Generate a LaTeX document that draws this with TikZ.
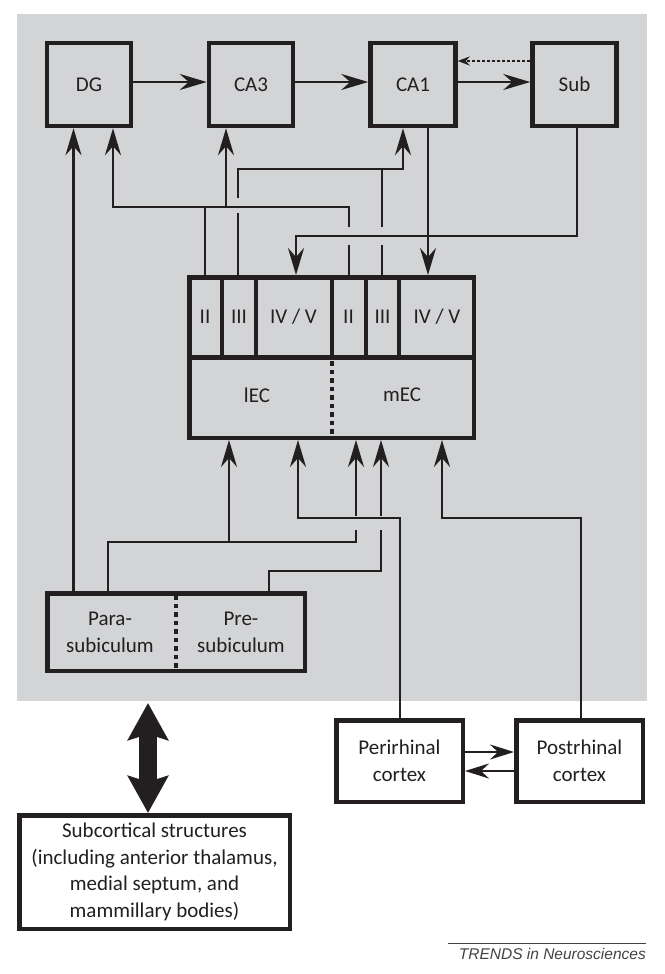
\documentclass[tikz,border=0pt]{standalone}
\usepackage{fontspec}
\setmainfont{Carlito}
\newfontfamily\trendsfont{Liberation Sans}
\usetikzlibrary{arrows.meta}
\definecolor{bg}{RGB}{211,212,214}
\definecolor{ink}{RGB}{35,31,32}
\begin{document}
\begin{tikzpicture}[x=1pt,y=-1pt,
  box/.style={draw=ink, line width=4.5pt, inner sep=0pt, align=center,
              font=\fontsize{21}{26.5}\selectfont, text=ink},
  conn/.style={draw=ink, line width=2.5pt},
  arr/.style={conn, -{Stealth[length=27pt,width=16pt,inset=9pt]}},
  sarr/.style={conn, -{Stealth[length=24pt,width=15pt,inset=8pt]}},
  lab/.style={font=\fontsize{21}{26}\selectfont, text=ink, inner sep=0pt},
  heavy/.style={draw=ink, line width=4.3pt},
  dotline/.style={draw=ink, line width=4.5pt, dash pattern=on 4.5pt off 4pt}
]
\useasboundingbox (0,0) rectangle (664,974);
\fill[bg] (17,14) rectangle (647,701);

% top row
\node[box, minimum width=84pt, minimum height=83pt] (DG)  at (89,84.5)    {DG};
\node[box, minimum width=84pt, minimum height=83pt] (CA3) at (251,84.5)   {CA3};
\node[box, minimum width=85pt, minimum height=83pt] (CA1) at (413,84.5)   {CA1};
\node[box, minimum width=84pt, minimum height=83pt] (Sub) at (574.5,84.5) {Sub};

\draw[arr] ([yshift=2.5pt]DG.east)  -- ([yshift=2.5pt]CA3.west);
\draw[arr] ([yshift=2.5pt]CA3.east) -- ([yshift=2.5pt]CA1.west);
\draw[arr] ([yshift=2.5pt]CA1.east) -- ([yshift=2.5pt]Sub.west);
\draw[draw=ink, line width=2pt, dash pattern=on 3pt off 2pt,
      -{Stealth[length=12pt,width=9pt,inset=4pt]}]
      ([yshift=23.5pt]Sub.west) -- ([yshift=23.5pt]CA1.east);

% entorhinal cortex
\node[box, minimum width=284.5pt, minimum height=160.5pt] (EC) at (331.5,357.5) {};
\draw[heavy] (EC.west) -- (EC.east);
\foreach \xx in {222,256,332,366,399} \draw[heavy] (\xx,275) -- (\xx,357.5);
\draw[dotline] (332,361) -- (332,440);
\node[lab] (L2)  at (205,317)   {II};
\node[lab] (L3)  at (239,317)   {III};
\node[lab] (L45) at (293.5,317) {IV / V};
\node[lab] (M2)  at (348.5,317) {II};
\node[lab] (M3)  at (382.5,317) {III};
\node[lab] (M45) at (437,317)   {IV / V};
\node[lab] (lEC) at (257,395)   {lEC};
\node[lab] (mEC) at (402,395)   {mEC};

% parasubiculum / presubiculum
\node[box, minimum width=257.5pt, minimum height=77.5pt] (PS) at (176,632) {};
\draw[dotline] (176,595) -- (176,673);
\node[lab, align=center, font=\fontsize{21}{27}\selectfont] (para) at (110,632) {Para-\\subiculum};
\node[lab, align=center, font=\fontsize{21}{27}\selectfont] (pre)  at (241,632) {Pre-\\subiculum};

% cortices
\node[box, minimum width=126.5pt, minimum height=81.5pt] (Peri) at (399.5,761) {Perirhinal\\cortex};
\node[box, minimum width=126.5pt, minimum height=81.5pt] (Post) at (579.5,761) {Postrhinal\\cortex};
\draw[sarr] ([yshift=9pt]Peri.east) -- ([yshift=9pt]Post.west);
\draw[sarr] ([yshift=-10pt]Post.west) -- ([yshift=-10pt]Peri.east);

\node[box, minimum width=270.5pt, minimum height=113.5pt] (Subc) at (154.5,872)
  {Subcortical structures\\(including anterior thalamus,\\medial septum, and\\mammillary bodies)};

% big double arrow
\coordinate (grayb) at (148,703);
\draw[draw=ink, line width=18pt,
      {Stealth[length=37pt,width=40pt,inset=6pt]}-{Stealth[length=37pt,width=40pt,inset=6pt]}]
      (grayb) -- (grayb |- Subc.north);

% ---- coordinates of the wiring ----
\coordinate (a1) at (113,207);
\coordinate (a2) at (349,207);
\coordinate (a3) at (349,227);
\coordinate (a4) at (349,245);
\coordinate (b1) at (205,207);
\coordinate (c1) at (226,207);
\coordinate (d1) at (238,213);
\coordinate (d2) at (238,198);
\coordinate (d3) at (238,169);
\coordinate (d4) at (403,169);
\coordinate (e1) at (382,245);
\coordinate (e2) at (382,227);
\coordinate (e3) at (382,169);
\coordinate (f1) at (577,236);
\coordinate (f2) at (296,236);
\coordinate (g1) at (428,128);

% layer II -> DG, CA3
\draw[conn] (b1 |- EC.north) -- (b1);
\draw[conn] (a2 |- EC.north) -- (a4);
\draw[arr] (a3) -- (a2) -- (a1) -- (a1 |- DG.south);
\draw[arr] (c1) -- (c1 |- CA3.south);
% layer III -> CA1
\draw[conn] (d1 |- EC.north) -- (d1);
\draw[arr] (d2) -- (d3) -- (d4) -- (d4 |- CA1.south);
\draw[conn] (e1 |- EC.north) -- (e1);
\draw[conn] (e2) -- (e3);
% Sub -> EC IV/V
\draw[arr] (f1 |- Sub.south) -- (f1) -- (f2) -- (f2 |- EC.north);
% CA1 -> EC IV/V
\draw[arr] (g1 |- CA1.south) -- (g1 |- EC.north);

% bottom wiring
\coordinate (p0) at (73.5,591);
\coordinate (p1) at (108,542);
\coordinate (p2) at (356,542);
\coordinate (p3) at (356,530);
\coordinate (p4) at (356,516);
\coordinate (p5) at (229,542);
\coordinate (q1) at (269,571);
\coordinate (q2) at (381,571);
\coordinate (q3) at (381,530);
\coordinate (q4) at (381,516);
\coordinate (r1) at (400,518);
\coordinate (r2) at (298,518);
\coordinate (s1) at (581,518);
\coordinate (s2) at (442,518);

\draw[arr] (p0 |- PS.north) -- (p0 |- DG.south);
\draw[conn] (p1 |- PS.north) -- (p1) -- (p2) -- (p3);
\draw[arr] (p4) -- (p4 |- EC.south);
\draw[arr] (p5) -- (p5 |- EC.south);
\draw[conn] (q1 |- PS.north) -- (q1) -- (q2) -- (q3);
\draw[arr] (q4) -- (q4 |- EC.south);
\draw[arr] (r1 |- Peri.north) -- (r1) -- (r2) -- (r2 |- EC.south);
\draw[arr] (s1 |- Post.north) -- (s1) -- (s2) -- (s2 |- EC.south);

% credit
\coordinate (tl) at (448,943);
\coordinate (tr) at (646,943);
\draw[draw=ink!85, line width=0.8pt] (tl) -- (tr);
\node[anchor=base east, inner sep=0pt, text=ink!85,
      font=\trendsfont\itshape\fontsize{15.5}{18}\selectfont] (trends) at (646,959)
      {TRENDS in Neurosciences};
\end{tikzpicture}
\end{document}
